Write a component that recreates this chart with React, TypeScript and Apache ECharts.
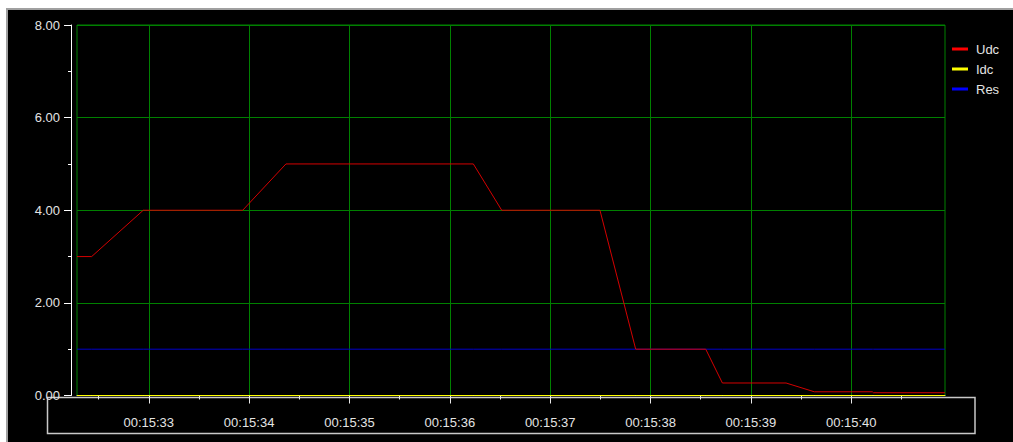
import React, { useEffect, useRef } from "react";
import * as echarts from "echarts";

// time in seconds past 00:15:00
const times = [32.285, 32.431, 32.945, 33.936, 34.367, 36.234, 36.517, 37.496, 37.852, 38.55, 38.716, 39.35, 39.632, 40.21, 40.22, 40.934];
const udc = [3, 3, 4, 4, 5, 5, 4, 4, 1, 1, 0.27, 0.27, 0.08, 0.08, 0.06, 0.06];
const idc = [0, 0, 0, 0, 0, 0, 0, 0, 0, 0, 0, 0, 0, 0, 0, 0];
const res = [1, 1, 1, 1, 1, 1, 1, 1, 1, 1, 1, 1, 1, 1, 1, 1];

const seriesNames = ["Udc", "Idc", "Res"];
const xTickSeconds = [33, 34, 35, 36, 37, 38, 39, 40];
const xTickLabels = ["00:15:33", "00:15:34", "00:15:35", "00:15:36", "00:15:37", "00:15:38", "00:15:39", "00:15:40"];
const xMin = 32.285;
const xMax = 40.934;

const FONT = "'Liberation Sans', Arial, sans-serif";
const TEXT = "#e4e4e4";
const GRID = "#008000";

export default function App() {
  const ref = useRef<HTMLDivElement>(null);
  useEffect(() => {
    if (!ref.current) return;
    const chart = echarts.init(ref.current, null, { renderer: "svg" });
    const pairs = (vals: number[]) => times.map((t, i) => [t, vals[i]]);
    chart.setOption({
      animation: false,
      backgroundColor: "#000000",
      grid: {
        left: 77,
        top: 25,
        right: 68,
        bottom: 46.5,
        show: true,
        borderColor: GRID,
        borderWidth: 1,
        backgroundColor: "transparent",
      },
      legend: {
        orient: "vertical",
        left: 952,
        top: 42,
        padding: 0,
        icon: "rect",
        itemWidth: 16,
        itemHeight: 3,
        itemGap: 6,
        selectedMode: false,
        textStyle: { color: TEXT, fontSize: 13, fontFamily: FONT, lineHeight: 14, padding: [0, 0, 0, 3] },
        data: [
          { name: seriesNames[0], itemStyle: { color: "#ff0000" } },
          { name: seriesNames[1], itemStyle: { color: "#ffff00" } },
          { name: seriesNames[2], itemStyle: { color: "#0000ff" } },
        ],
      },
      xAxis: {
        type: "value",
        min: xMin,
        max: xMax,
        splitNumber: 8,
        offset: 6,
        axisLine: { show: true, lineStyle: { color: "#e8e8e8", width: 1 } },
        axisTick: { show: true, length: 8, customValues: xTickSeconds, lineStyle: { color: "#e8e8e8" } },
        minorTick: { show: true, splitNumber: 2, length: 4, lineStyle: { color: "#e8e8e8" } },
        splitLine: { show: true, lineStyle: { color: GRID, width: 1, opacity: 1 } },
        axisLabel: {
          customValues: xTickSeconds,
          color: TEXT,
          fontSize: 13,
          fontFamily: FONT,
          margin: 14,
          formatter: (v: number) => {
            const i = xTickSeconds.findIndex((s) => Math.abs(s - v) < 1e-6);
            return i >= 0 ? xTickLabels[i] : "";
          },
        },
      },
      yAxis: {
        type: "value",
        min: 0,
        max: 8,
        interval: 2,
        offset: 6,
        axisLine: { show: true, lineStyle: { color: "#ffffff", width: 1 } },
        axisTick: { show: true, length: 7, lineStyle: { color: "#ffffff" } },
        minorTick: { show: true, splitNumber: 2, length: 3, lineStyle: { color: "#ffffff" } },
        splitLine: { show: true, lineStyle: { color: GRID, width: 1, opacity: 1 } },
        axisLabel: {
          color: TEXT,
          fontSize: 13,
          fontFamily: FONT,
          margin: 11,
          formatter: (v: number) => v.toFixed(2),
        },
      },
      series: [
        {
          name: seriesNames[0],
          type: "line",
          data: pairs(udc),
          showSymbol: false,
          symbol: "none",
          color: "#ff0000",
          lineStyle: { color: "#d40000", width: 1 },
          z: 5,
        },
        {
          name: seriesNames[1],
          type: "line",
          data: pairs(idc),
          showSymbol: false,
          symbol: "none",
          clip: false,
          color: "#ffff00",
          lineStyle: { color: "#ffff00", width: 1 },
          z: 4,
        },
        {
          name: seriesNames[2],
          type: "line",
          data: pairs(res),
          showSymbol: false,
          symbol: "none",
          color: "#0000ff",
          lineStyle: { color: "#0000c8", width: 1 },
          z: 3,
        },
      ],
      graphic: [
        { type: "rect", shape: { x: 0, y: 0, width: 1013, height: 8 }, style: { fill: "#ffffff" }, silent: true },
        { type: "rect", shape: { x: 0, y: 0, width: 6, height: 442 }, style: { fill: "#ffffff" }, silent: true },
        { type: "rect", shape: { x: 6, y: 8, width: 1007, height: 2 }, style: { fill: "#a0a0a0" }, silent: true },
        { type: "rect", shape: { x: 6, y: 8, width: 2, height: 434 }, style: { fill: "#a0a0a0" }, silent: true },
        {
          type: "rect",
          shape: { x: 47.5, y: 397.5, width: 927.5, height: 36 },
          style: { fill: "none", stroke: "#c8c8c8", lineWidth: 1.5 },
          silent: true,
          z: -1,
        },
      ],
    });
    return () => chart.dispose();
  }, []);
  return (
    <div style={{ position: "absolute", left: 0, top: 0, width: 1013, height: 442, background: "#ffffff" }}>
      <div ref={ref} style={{ width: 1013, height: 442 }} />
    </div>
  );
}
